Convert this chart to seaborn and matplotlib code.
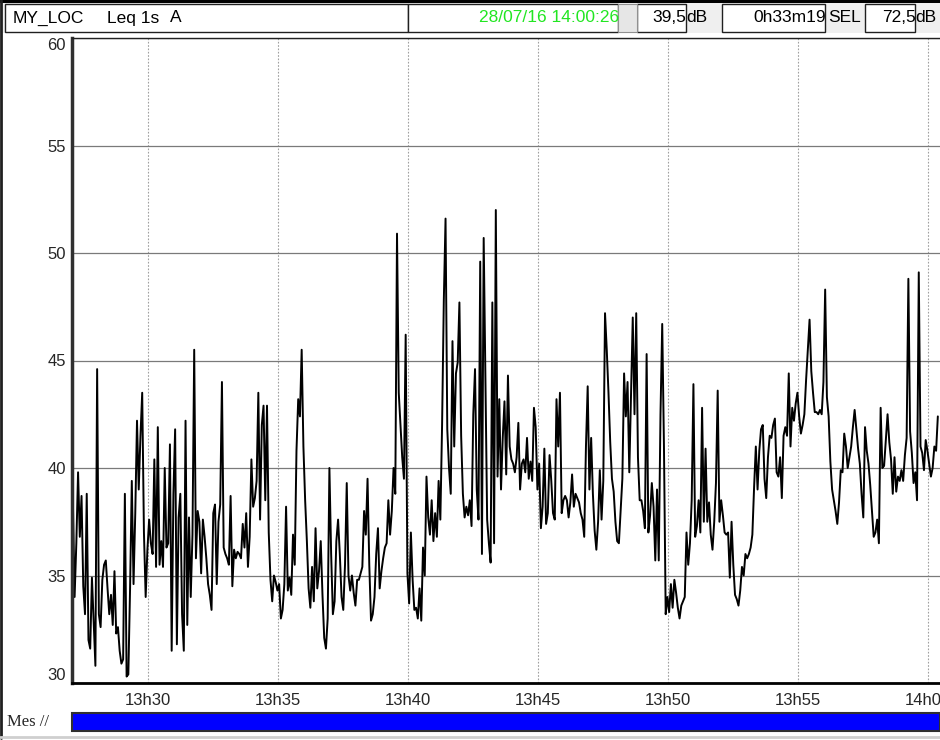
import pandas as pd
import matplotlib
matplotlib.use('Agg')
import matplotlib.pyplot as plt
import matplotlib.dates as mdates
from matplotlib.patches import Rectangle
import seaborn as sns

# Leq 1s (A) readings, one value every 4 s
start_time = '2016-07-28 13:27:07'
sample_step = '4s'
leq_db = [
    # 13h27 - 13h31
    38.5, 34.0, 36.5, 39.8, 36.8, 38.7, 34.5, 33.2, 38.8, 32.0,
    31.6, 34.9, 32.9, 30.8, 44.6, 33.2, 32.6, 34.8, 35.5, 35.7,
    34.4, 33.2, 34.1, 32.7, 35.2, 32.3, 32.6, 31.5, 30.9, 31.1,
    38.8, 30.3, 30.4, 34.4, 39.4, 34.6, 37.9, 42.2, 39.0, 41.5,
    43.5, 37.0, 34.0, 36.2, 37.6, 36.5, 36.0, 40.4, 35.4, 41.9,
    35.5, 36.6, 35.4, 40.0, 36.3, 36.5, 41.1, 31.5, 38.8, 41.8,
    # 13h31 - 13h35
    31.8, 37.7, 38.8, 33.2, 31.5, 42.2, 32.7, 37.7, 34.0, 36.9,
    45.5, 35.8, 38.0, 37.5, 35.1, 37.6, 36.8, 35.8, 34.6, 34.1,
    33.4, 37.9, 38.3, 34.6, 37.5, 38.3, 44.0, 36.3, 36.0, 35.8,
    35.5, 38.7, 34.5, 36.2, 35.8, 36.1, 36.0, 35.8, 37.4, 36.3,
    37.9, 35.4, 36.8, 40.4, 38.2, 38.6, 39.4, 43.5, 37.6, 42.0,
    42.9, 38.5, 42.9, 37.0, 34.8, 33.8, 35.0, 34.7, 34.3, 34.6,
    # 13h35 - 13h39
    33.0, 33.4, 34.6, 38.2, 34.3, 34.9, 34.1, 36.9, 35.5, 40.8,
    43.2, 42.4, 45.5, 41.0, 38.5, 36.6, 34.4, 33.5, 35.4, 33.8,
    37.2, 34.4, 35.2, 36.6, 34.1, 32.1, 31.6, 33.0, 40.0, 36.0,
    33.2, 33.8, 36.6, 37.6, 36.0, 34.0, 33.4, 35.5, 39.3, 35.0,
    34.3, 35.0, 34.2, 33.6, 34.8, 34.8, 35.1, 35.4, 38.0, 36.9,
    39.5, 35.5, 32.9, 33.2, 34.0, 36.0, 37.2, 34.4, 35.2, 35.8,
    # 13h39 - 13h43
    36.3, 36.5, 38.5, 36.9, 38.0, 40.0, 38.8, 50.9, 43.5, 42.0,
    40.5, 39.5, 46.2, 35.1, 33.7, 37.0, 34.8, 33.4, 33.5, 33.0,
    34.4, 32.9, 36.3, 35.0, 39.6, 37.7, 36.9, 38.5, 36.6, 37.9,
    36.8, 39.4, 37.6, 42.0, 47.8, 51.6, 41.8, 40.0, 38.8, 45.9,
    41.0, 44.4, 44.9, 47.7, 41.5, 38.8, 37.7, 38.2, 37.8, 38.5,
    37.3, 42.5, 44.6, 39.0, 37.6, 49.6, 36.0, 50.7, 44.1, 37.6,
    # 13h43 - 13h47
    36.5, 35.6, 47.7, 36.5, 52.0, 39.6, 43.2, 39.0, 41.4, 43.1,
    39.7, 44.3, 41.0, 40.4, 40.2, 39.8, 40.5, 42.1, 39.0, 40.2,
    40.4, 39.8, 41.4, 39.5, 40.3, 39.4, 42.8, 41.9, 39.0, 40.2,
    37.2, 38.2, 40.9, 37.4, 37.9, 40.6, 39.4, 37.9, 37.6, 43.2,
    41.0, 43.5, 37.9, 38.5, 38.7, 38.5, 37.7, 38.4, 39.7, 38.2,
    38.8, 38.6, 38.4, 37.9, 37.6, 36.8, 41.0, 43.8, 39.0, 41.4,
    # 13h47 - 13h51
    38.8, 37.1, 36.2, 37.5, 39.9, 37.6, 39.4, 47.2, 45.5, 43.5,
    41.2, 39.5, 38.9, 37.5, 36.6, 36.5, 38.0, 39.5, 44.4, 42.4,
    44.0, 39.8, 43.5, 47.0, 42.5, 47.2, 40.5, 38.5, 38.5, 38.0,
    37.2, 45.3, 37.0, 37.8, 39.3, 38.2, 35.7, 39.0, 35.7, 42.5,
    46.7, 41.0, 33.2, 34.0, 33.3, 34.6, 33.5, 34.8, 34.2, 33.5,
    33.0, 33.6, 33.8, 34.0, 37.0, 35.5, 36.5, 38.5, 43.9, 36.8,
    # 13h51 - 13h55
    37.3, 38.5, 37.0, 42.8, 37.5, 40.9, 37.5, 38.4, 36.9, 36.2,
    37.5, 39.3, 43.6, 37.5, 38.5, 37.8, 37.0, 36.9, 37.0, 34.9,
    37.5, 35.5, 34.1, 33.9, 33.6, 34.3, 35.4, 35.0, 36.0, 35.8,
    36.0, 36.3, 36.9, 39.1, 41.0, 39.0, 40.8, 41.8, 42.0, 39.5,
    38.6, 40.5, 41.5, 41.4, 42.0, 42.3, 39.8, 39.6, 40.5, 38.6,
    41.5, 41.9, 41.5, 44.4, 41.0, 42.8, 42.2, 43.0, 43.5, 42.4,
    # 13h55 - 14h00
    41.6, 42.0, 42.5, 44.1, 45.5, 46.9, 44.5, 43.5, 42.6, 42.6,
    42.5, 42.7, 42.5, 44.0, 48.3, 43.3, 42.4, 40.3, 39.0, 38.5,
    38.0, 37.4, 38.4, 39.9, 39.8, 41.6, 41.0, 40.0, 40.5, 41.0,
    41.9, 42.7, 41.8, 40.9, 40.2, 38.8, 37.7, 41.9, 40.8, 40.2,
    39.2, 38.0, 36.8, 37.0, 37.6, 36.5, 42.8, 40.0, 40.1, 41.3,
    42.5, 41.2, 40.4, 38.8, 40.5, 38.9, 39.6, 39.4, 39.9, 39.4,
    40.6, 41.4, 48.8, 41.7, 40.7, 39.3, 39.8, 38.5, 49.1, 41.0,
    40.7, 39.9, 41.3, 40.8, 40.2, 39.6, 40.0, 41.0, 40.8, 42.4,
]

y_ticks = [30, 35, 40, 45, 50, 55, 60]
view_start = '2016-07-28 13:27:05'
view_end = '2016-07-28 14:00:28'

# header strings
location = 'MY_LOC'
index_name = 'Leq 1s'
weighting = 'A'
end_stamp = '28/07/16 14:00:26'
last_value = '39,5'
duration = '0h33m19'
sel_value = '72,5'

df = pd.DataFrame({
    'time': pd.date_range(start_time, periods=len(leq_db), freq=sample_step),
    'leq': leq_db,
})

sns.set_theme(style='white')
plt.rcParams['font.family'] = ['Liberation Sans', 'DejaVu Sans']

fig = plt.figure(figsize=(9.4, 7.4), dpi=100)
fig.patch.set_facecolor('white')

# pixel overlay for the header / footer furniture
ov = fig.add_axes([0, 0, 1, 1])
ov.set_xlim(0, 940)
ov.set_ylim(740, 0)
ov.axis('off')
ov.set_zorder(0)

ov.add_patch(Rectangle((0, 0), 940, 33, fc='#efefef', ec='none'))
ov.add_patch(Rectangle((0, 0), 940, 2.5, fc='black', ec='none'))
ov.plot([1, 1], [0, 738], color='#202020', lw=2)
for x0, x1 in [(5, 408), (408, 618), (637, 686), (722, 825), (865, 915)]:
    ov.add_patch(Rectangle((x0, 3.5), x1 - x0, 28.5, fc='white', ec='#202020', lw=1))
ov.add_patch(Rectangle((618, 3.5), 19, 28.5, fc='#e6e6e6', ec='#909090', lw=0.8))

hdr = dict(fontsize=12.5, va='center', color='black')
ov.text(13, 18, location, ha='left', **hdr)
ov.text(107, 18, index_name, ha='left', **hdr)
ov.text(170, 18, weighting, ha='left', **hdr)
ov.text(619, 18, end_stamp, ha='right', fontsize=12.5, va='center', color='#22e622')
ov.text(686.5, 18, last_value, ha='right', **hdr)
ov.text(686, 18, 'dB', ha='left', **hdr)
ov.text(826, 18, duration, ha='right', **hdr)
ov.text(828, 18, 'SEL', ha='left', **hdr)
ov.text(915.5, 18, sel_value, ha='right', **hdr)
ov.text(915, 18, 'dB', ha='left', **hdr)

ov.text(7, 722, 'Mes //', ha='left', va='center', fontsize=12,
        family=['Liberation Serif', 'DejaVu Serif'])
ov.add_patch(Rectangle((72, 713), 868, 18, fc='#0000ff', ec='#303030', lw=1.5))
ov.plot([0, 940], [737, 737], color='#cfcfcf', lw=2)

# main time-history plot
ax = fig.add_axes([72 / 940, 57 / 740, 868 / 940, 645 / 740])
ax.set_zorder(1)
ax.set_facecolor('white')
sns.lineplot(data=df, x='time', y='leq', ax=ax, color='black', linewidth=1.4)

ax.set_xlim(pd.Timestamp(view_start), pd.Timestamp(view_end))
ax.set_ylim(y_ticks[0], y_ticks[-1])
ax.set_yticks(y_ticks)
ax.xaxis.set_major_locator(mdates.MinuteLocator(byminute=range(0, 60, 5)))
ax.xaxis.set_major_formatter(mdates.DateFormatter('%Hh%M'))
ax.set_xlabel('')
ax.set_ylabel('')

ax.set_axisbelow(True)
ax.yaxis.grid(True, color='#7a7a7a', lw=0.9)
ax.xaxis.grid(True, color='#a0a0a0', lw=0.8, ls=(0, (1.5, 1.5)))

ax.spines['right'].set_visible(False)
ax.spines['top'].set_color('#202020')
ax.spines['top'].set_linewidth(1)
ax.spines['left'].set_color('#303030')
ax.spines['left'].set_linewidth(2.5)
ax.spines['bottom'].set_color('black')
ax.spines['bottom'].set_linewidth(2)

ax.tick_params(axis='x', direction='out', length=4, width=1, color='black',
               labelsize=12, pad=3)
ax.tick_params(axis='y', direction='out', length=2.5, width=1, color='black',
               labelsize=12, pad=2)
ylabels = ax.get_yticklabels()
ylabels[0].set_va('bottom')
ylabels[-1].set_va('top')

fig.savefig('out.png', dpi=100)
